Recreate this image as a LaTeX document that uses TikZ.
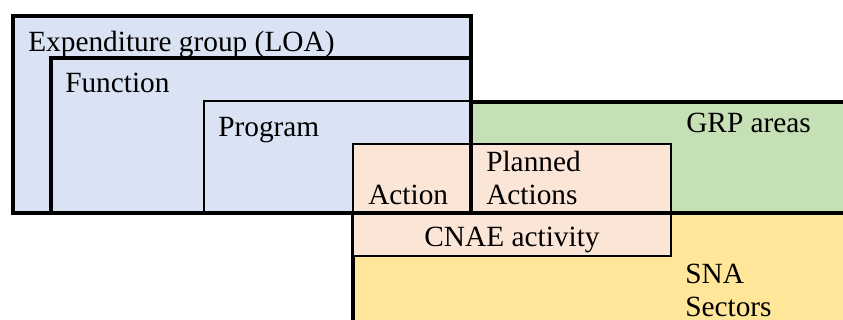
\documentclass[tikz,border=0pt]{standalone}
\usepackage{fontspec}
\setmainfont{Liberation Serif}
\definecolor{cblue}{HTML}{DAE3F3}
\definecolor{cgreen}{HTML}{C5E0B4}
\definecolor{cpink}{HTML}{FBE5D6}
\definecolor{cyellow}{HTML}{FFE699}
\begin{document}
\begin{tikzpicture}[x=0.75pt,y=-0.75pt,
  box/.style={draw, rectangle, inner sep=0pt, outer sep=0pt, anchor=north west},
  thickbox/.style={box, line width=2.4pt},
  thinbox/.style={box, line width=1.8pt},
  lbl/.style={inner sep=0pt, anchor=base west, font=\fontsize{22}{24.75}\selectfont, align=left}]
\useasboundingbox (0,0) rectangle (843,320);
\clip (0,0) rectangle (843,320);
% boxes
\node[thickbox, fill=cblue, minimum width=343.5pt, minimum height=147.75pt] (loa) at (13,16) {};
\node[thickbox, fill=cblue, minimum width=315pt, minimum height=116.25pt] (func) at (51,58) {};
\node[thinbox, fill=cblue, minimum width=200.25pt, minimum height=84pt] (prog) at (204,101) {};
\node[thickbox, fill=cgreen, minimum width=321.75pt, minimum height=83.25pt] (grp) at (471,102) {};
\node[thickbox, fill=cyellow, minimum width=410.25pt, minimum height=105pt] (sna) at (353,213) {};
\node[thinbox, fill=cpink, minimum width=88.5pt, minimum height=51.75pt] (action) at (353,144) {};
\node[thinbox, fill=cpink, minimum width=150pt, minimum height=51.75pt] (planned) at (471,144) {};
\node[thinbox, fill=cpink, minimum width=238.5pt, minimum height=32.25pt] (cnae) at (353,213) {};
\draw[line width=2.4pt] (loa.south west) -- (grp.south east);
\draw[line width=2.4pt] (loa.north east) -- (loa.south east);
% labels
\node[lbl] (tloa) at (28,52) {Expenditure group (LOA)};
\node[lbl] (tfunc) at (65,93) {Function};
\node[lbl] (tprog) at (218,137) {Program};
\node[lbl] (tact) at (368,205) {Action};
\node[lbl] (tplan) at (486,205) {Planned\\Actions};
\node[lbl] (tgrp) at (686,133) {GRP areas};
\node[lbl, anchor=base] (tcnae) at (512,247) {CNAE activity};
\node[lbl] (tsna) at (685,317) {SNA\\Sectors};
\end{tikzpicture}
\end{document}
